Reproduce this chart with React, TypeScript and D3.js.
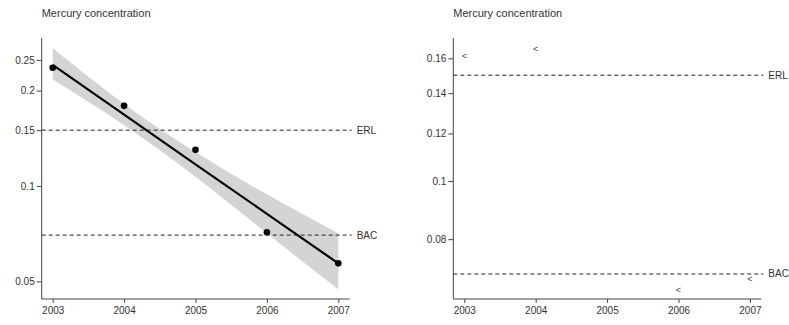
import React, { useEffect, useRef } from "react";
import * as d3 from "d3";

// left panel: observed values + fitted trend with confidence band
const years = [2003, 2004, 2005, 2006, 2007];
const observed = [0.236, 0.179, 0.13, 0.0714, 0.057];
const fitted = [0.241, 0.168, 0.117, 0.0817, 0.057];
const bandUpper = [0.272, 0.1815, 0.128, 0.0941, 0.0709];
const bandLower = [0.217, 0.1555, 0.107, 0.0709, 0.0472];
const leftTicks = [0.05, 0.1, 0.15, 0.2, 0.25];

// right panel: values below detection limit ("<"), no 2005 value
const lessYears = [2003, 2004, 2006, 2007];
const lessValues = [0.1616, 0.1658, 0.0658, 0.0686];
const rightTicks = [0.08, 0.1, 0.12, 0.14, 0.16];

const refLines = [
    { name: "ERL", value: 0.15 },
    { name: "BAC", value: 0.07 },
];

const title = "Mercury concentration";
const font = "Arial, 'Liberation Sans', sans-serif";

const Panel = ({ left, domain, ticks, fmt, children }) => {
    const ref = useRef(null);
    const width = 308;
    const top = 38, bottom = 299;
    const x = d3.scaleLinear().domain([2003, 2007]).range([left + 11, left + 296.6]);
    const y = d3.scaleLog().domain(domain).range([bottom, top]);

    useEffect(() => {
        const g = d3.select(ref.current);
        g.selectAll("*").remove();

        const yAxis = d3.axisLeft(y).tickValues(ticks).tickFormat(fmt).tickSize(5).tickSizeOuter(0);
        const ya = g.append("g").attr("transform", `translate(${left},0)`).call(yAxis);
        const xAxis = d3.axisBottom(x).tickValues(years).tickFormat(d3.format("d")).tickSize(4).tickSizeOuter(0);
        const xa = g.append("g").attr("transform", `translate(0,${bottom})`).call(xAxis);
        [ya, xa].forEach(a => {
            a.select(".domain").remove();
            a.selectAll("line").attr("stroke", "#444");
            a.selectAll("text").attr("fill", "#333").style("font-size", "10px").style("font-family", font);
        });
        ya.selectAll("text").attr("x", -7);
        xa.selectAll("text").attr("y", 8);
        g.append("path")
            .attr("d", `M${left},${top}V${bottom}H${left + width}`)
            .attr("fill", "none")
            .attr("stroke", "#444");

        refLines.forEach(r => {
            g.append("line")
                .attr("x1", left).attr("x2", left + width + 2)
                .attr("y1", y(r.value)).attr("y2", y(r.value))
                .attr("stroke", "#222").attr("stroke-dasharray", "4,3");
            g.append("text")
                .attr("x", left + width + 7).attr("y", y(r.value)).attr("dy", "0.35em")
                .attr("fill", "#333").style("font-size", "10px").style("font-family", font)
                .text(r.name);
        });

        g.append("text")
            .attr("x", left).attr("y", 17)
            .attr("fill", "#333").style("font-size", "11px").style("font-family", font)
            .text(title);
    }, []);

    return (
        <g>
            {children && children(x, y)}
            <g ref={ref} />
        </g>
    );
};

const App = () => {
    const area = (x, y) => d3.area()
        .curve(d3.curveNatural)
        .x((d, i) => x(years[i]))
        .y0((d, i) => y(bandLower[i]))
        .y1((d, i) => y(bandUpper[i]))(years);
    const line = (x, y) => d3.line()
        .x((d, i) => x(years[i]))
        .y((d, i) => y(fitted[i]))(years);

    return (
        <svg width={789} height={325} style={{ position: "absolute", left: 0, top: 0, background: "#fff" }}>
            <Panel left={41.7} domain={[0.044, 0.293]} ticks={leftTicks} fmt={d => String(d)}>
                {(x, y) => (
                    <g>
                        <path d={area(x, y)} fill="#d4d4d4" />
                        <path d={line(x, y)} fill="none" stroke="#000" strokeWidth={2.2} />
                        {observed.map((v, i) => (
                            <circle key={i} cx={x(years[i])} cy={y(v)} r={3.3} fill="#000" />
                        ))}
                    </g>
                )}
            </Panel>
            <Panel left={453.3} domain={[0.0636, 0.173]} ticks={rightTicks} fmt={d => String(d)}>
                {(x, y) => (
                    <g>
                        {lessValues.map((v, i) => (
                            <text key={i} x={x(lessYears[i])} y={y(v)} dy="0.35em" textAnchor="middle"
                                fill="#444" style={{ fontSize: "9px", fontFamily: font }}>{"<"}</text>
                        ))}
                    </g>
                )}
            </Panel>
        </svg>
    );
};

export default App;
